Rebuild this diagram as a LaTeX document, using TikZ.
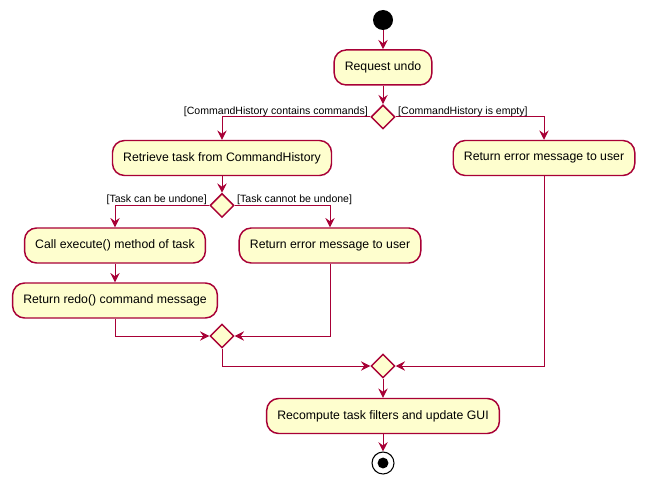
\documentclass[tikz,border=0pt]{standalone}
\usepackage{fontspec}
\setmainfont{Liberation Sans}
\usetikzlibrary{arrows.meta, shapes.geometric}
\definecolor{umlred}{HTML}{A80036}
\definecolor{umlfill}{HTML}{FEFECE}
\tikzstyle{act} = [draw=umlred, fill=umlfill, rectangle, rounded corners=9pt,
   line width=1.1pt, minimum height=26.25pt, inner xsep=8pt,
   font=\fontsize{9.2}{11}\selectfont]
\tikzstyle{branch} = [draw=umlred, fill=umlfill, diamond, aspect=1,
   minimum size=18pt, inner sep=0pt, line width=1.1pt]
\tikzstyle{startnode} = [circle, fill=black, minimum size=15pt, inner sep=0pt]
\tikzstyle{stopnode} = [circle, draw=black, fill=white, line width=0.8pt,
   minimum size=16.5pt, inner sep=0pt,
   path picture={\fill[black] (path picture bounding box.center) circle (4.1pt);}]
\tikzstyle{flow} = [draw=umlred, line width=0.75pt,
   -{Stealth[length=7pt, width=7pt, inset=2.5pt]}]
\tikzstyle{guard} = [font=\fontsize{7.9}{9}\selectfont, inner xsep=1.5pt, inner ysep=0pt]

\begin{document}
\begin{tikzpicture}[x=0.75pt, y=-0.75pt]
			\useasboundingbox (0,0) rectangle (645,485);

  			\node[startnode] (start) at (383,20) {};
  			\node[act, below of=start, node distance=35.6pt] (req) {Request undo};
  			\node[branch, below of=req, node distance=37.1pt] (d1) {};
			\node[act] (retrieve) at (222,158) {Retrieve task from CommandHistory};
			\node[act] (errA) at (544,158) {Return error message to user};
  			\node[branch, below of=retrieve, node distance=35.6pt] (d2) {};
			\node[act] (exec) at (115,245.5) {Call execute() method of task};
			\node[act] (errB) at (330,245.5) {Return error message to user};
			\node[act, below of=exec, node distance=41.25pt] (redo) {Return redo() command message};
			\node[branch] (m2) at (222,336) {};
			\node[branch] (m1) at (383,366) {};
			\node[act, below of=m1, node distance=37.5pt] (recomp) {Recompute task filters and update GUI};
			\node[stopnode, below of=recomp, node distance=35.25pt] (stop) {};

  			% arrows down the main line
  			\draw[flow] (start) -- (req);
  			\draw[flow] (req) -- (d1);
			\draw[flow] (retrieve) -- (d2);
			\draw[flow] (exec) -- (redo);
			\draw[flow] (m1) -- (recomp);
			\draw[flow] (recomp) -- (stop);

			% branches with their guards
			\draw[flow] (d1.west) node[guard, anchor=south east] {[CommandHistory contains commands]} -| (retrieve.north);
			\draw[flow] (d1.east) node[guard, anchor=south west] {[CommandHistory is empty]} -| (errA.north);
			\draw[flow] (d2.west) node[guard, anchor=south east] {[Task can be undone]} -| (exec.north);
			\draw[flow] (d2.east) node[guard, anchor=south west] {[Task cannot be undone]} -| (errB.north);

			% merges
			\draw[flow] (redo.south) |- (m2.west);
			\draw[flow] (errB.south) |- (m2.east);
			\draw[flow] (m2.south) |- (m1.west);
			\draw[flow] (errA.south) |- (m1.east);
		\end{tikzpicture}
\end{document}
